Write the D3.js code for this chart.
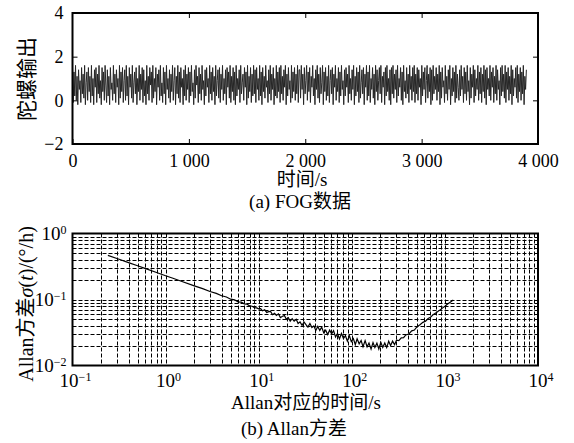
<!DOCTYPE html>
<html lang="zh">
<head>
<meta charset="UTF-8">
<title>FOG数据与Allan方差</title>
<script src="https://d3js.org/d3.v7.min.js"></script>
<style>
  body { margin: 0; background: #fff; }
  text { font-family: "Liberation Serif", "DejaVu Serif", "Noto Sans CJK SC", serif; fill: #000; }
</style>
</head>
<body>
<div id="chart"></div>
<script>
// ---- data ----
// (a) gyro output, sampled over ~3 900 s
var fogValues = [
  1.5,-0.1,1.3,0.2,1.6,0.0,1.1,-0.2,1.4,0.5,0.9,-0.1,1.5,0.3,1.2,0.1,1.6,-0.2,0.8,1.3,0.0,1.5,0.4,1.1,-0.1,1.6,0.2,1.0,-0.2,1.4,
  0.6,1.5,-0.1,1.2,0.3,1.6,0.1,0.9,-0.2,1.5,0.4,1.3,0.0,1.6,0.7,-0.1,1.4,0.2,1.1,-0.2,1.5,0.5,0.8,0.0,1.6,0.3,1.2,-0.1,1.4,0.6,
  1.0,-0.2,1.6,0.1,1.3,0.4,1.5,-0.1,0.9,1.4,0.0,1.6,0.2,1.1,-0.2,1.5,0.6,1.2,0.1,1.6,-0.1,0.8,1.3,0.3,1.5,-0.2,1.0,0.4,1.6,0.0,
  1.2,0.5,1.5,-0.1,1.4,0.2,0.9,-0.2,1.6,0.3,1.1,0.0,1.5,0.7,1.3,-0.1,1.6,0.1,1.0,0.4,1.5,-0.2,1.2,0.6,1.4,0.0,1.6,0.2,0.8,-0.1,
  1.5,0.3,1.3,-0.2,1.6,0.5,1.0,0.1,1.4,-0.1,1.2,0.4,1.6,0.0,0.9,1.5,-0.2,1.1,0.3,1.6,0.1,1.3,-0.1,1.5,0.6,1.0,-0.2,1.4,0.2,1.6,
  0.0,1.2,0.5,1.5,-0.1,1.3,0.2,1.6,0.4,0.8,-0.2,1.4,0.1,1.6,0.7,1.1,-0.1,1.5,0.3,1.2,0.0,1.6,0.5,0.9,-0.2,1.4,0.2,1.5,0.6,1.0,
  -0.1,1.6,0.3,1.3,0.0,1.5,0.4,1.1,-0.2,1.6,0.2,0.9,1.4,0.1,1.5,-0.1,1.2,0.5,1.6,0.0,1.0,0.3,1.4,-0.2,1.5,0.6,1.3,0.1,1.6,-0.1,
  1.1,0.4,1.5,0.0,1.3,-0.2,1.6,0.2,1.0,0.5,1.4,-0.1,1.6,0.3,0.8,1.2,0.0,1.5,0.6,1.3,-0.2,1.6,0.1,1.1,0.4,1.5,-0.1,1.2,0.2,1.6,
  0.3,1.4,-0.1,1.5,0.5,1.0,0.0,1.6,0.2,1.3,-0.2,1.5,0.4,1.1,0.1,1.6,0.6,0.9,-0.1,1.4,0.3,1.6,0.0,1.2,0.5,1.5,-0.2,1.0,0.2,1.6,
  0.1,1.3,0.4,1.5,-0.1,1.6,0.3,1.1,0.0,1.4,0.6,1.6,-0.2,1.2,0.2,1.5,0.5,0.9,-0.1,1.6,0.1,1.3,0.4,1.5,0.0,1.2,0.3,1.6,-0.1,1.4,
  1.4,0.1,1.6,0.5,1.2,-0.2,1.5,0.3,0.9,1.6,0.0,1.3,0.4,1.5,-0.1,1.1,0.6,1.6,0.2,1.0,-0.2,1.4,0.5,1.6,0.1,1.2,-0.1,1.5,0.3,0.8,
  1.6,-0.2,1.3,0.4,1.5,0.0,1.1,0.2,1.6,-0.1,0.9,1.4,0.3,1.5,-0.2,1.2,0.6,1.6,0.0,1.0,0.4,1.5,-0.1,1.3,0.2,1.6,0.5,0.9,-0.2,1.4,
  0.2,1.5,0.6,1.2,-0.1,1.6,0.3,1.0,0.0,1.4,0.5,1.6,-0.2,1.1,0.2,1.5,0.4,1.3,-0.1,1.6,0.1,0.8,1.4,0.3,1.5,-0.2,1.2,0.6,1.6,0.0,
  1.3,0.2,1.6,-0.1,1.0,0.5,1.5,0.1,1.2,-0.2,1.6,0.4,1.4,0.0,0.9,1.5,0.3,1.6,-0.1,1.1,0.6,1.3,-0.2,1.5,0.2,1.6,0.4,1.0,0.0,1.4,
  -0.2,1.5,0.3,1.6,0.1,1.2,0.5,1.4,-0.1,1.6,0.2,1.0,0.6,1.5,0.0,1.3,-0.2,1.6,0.4,0.9,0.1,1.5,0.3,1.2,-0.1,1.6,0.5,1.1,0.0,1.5,
  0.4,1.6,-0.1,1.2,0.3,1.5,0.0,1.4,0.6,1.0,-0.2,1.6,0.2,1.3,0.5,1.5,-0.1,0.9,1.6,0.1,1.2,0.4,1.5,-0.2,1.4,0.0,1.6,0.3,1.1,0.5,
  1.5,0.0,1.2,0.4,1.6,-0.2,1.3,0.1,1.5,0.6,0.9,-0.1,1.6,0.3,1.1,0.0,1.4,0.5,1.6,-0.2,1.0,0.2,1.5,0.4,1.3,-0.1,1.6,0.1,1.2,0.6,
  0.0,1.4,0.2,1.6,0.5,1.1,-0.1,1.5,0.3,1.3,0.0,1.6,0.4,0.9,-0.2,1.5,0.1,1.2,0.6,1.6,-0.1,1.4,0.2,1.0,0.5,1.6,0.0,1.3,0.3,1.5,
  -0.1,1.2,0.4,1.6,0.1,1.4,-0.2,1.5,0.5,1.0,0.2,1.6,0.0,1.3,0.6,1.5,-0.1,1.1,0.3,1.6,0.0,1.4,0.5,0.9,-0.2,1.5,0.2,1.6,0.4,1.2,
  0.1,1.6,-0.1,1.3,0.5,1.5,0.0,1.1,0.3,1.6,-0.2,1.4,0.2,1.0,0.6,1.5,0.1,1.6,-0.1,1.2,0.4,1.5,0.0,1.3,0.3,1.6,-0.2,1.1,0.5,1.4
];
var fogDuration = 3900;
var fogXTicks = [0, 1000, 2000, 3000, 4000];
var fogXLabels = ["0", "1 000", "2 000", "3 000", "4 000"];
var fogYTicks = [-2, 0, 2, 4];
var fogYLabels = ["\u22122", "0", "2", "4"];

// (b) Allan deviation
var allanTau = [
  0.24, 0.3, 0.4, 0.5, 0.6, 0.8, 1.0, 1.2, 1.5, 2, 2.5, 3, 3.5, 4, 4.5, 5, 5.5, 6, 6.5, 7, 7.5, 8, 8.5, 9, 9.5,
  10, 10.5, 11, 11.6, 12.2, 12.8, 13.4, 14.1, 14.8, 15.5, 16.3, 17.1, 18, 18.9, 19.8, 20.8, 21.8, 22.9, 24, 25.3,
  26.5, 27.8, 29.2, 30.7, 32.2, 33.8, 35.5, 37.3, 39.1, 41.1, 43.1, 45.3, 47.5, 49.9, 52.4, 55, 57.8, 60.7, 63.7,
  66.9, 70.2, 73.7, 77.4, 81.3, 85.4, 89.6, 94.1, 98.8, 104, 109, 114, 120, 126, 132, 139, 146, 153, 161, 169,
  177, 186, 195, 205, 215, 226, 237, 249, 261, 274, 288, 302,
  320, 340, 360, 380, 410, 440, 470, 500, 540, 580, 620, 660, 700, 760, 820, 880, 940, 1000, 1060, 1150, 1230
];
var allanSigma = [
  0.467, 0.418, 0.362, 0.324, 0.296, 0.257, 0.229, 0.210, 0.187, 0.162, 0.146, 0.132, 0.124, 0.114, 0.109, 0.101, 0.099, 0.092, 0.091, 0.086, 0.085, 0.080, 0.079, 0.075, 0.0745,
  0.0720, 0.0725, 0.0674, 0.0699, 0.0637, 0.0655, 0.0658, 0.0588, 0.0617, 0.0574, 0.0606, 0.0531, 0.0558, 0.0571, 0.0501, 0.0530, 0.0469, 0.0511, 0.0471, 0.0503,
  0.0432, 0.0458, 0.0405, 0.0455, 0.0415, 0.0382, 0.0433, 0.0376, 0.0398, 0.0340, 0.0391, 0.0340, 0.0381, 0.0314, 0.0343, 0.0294, 0.0343, 0.0302, 0.0337,
  0.0270, 0.0305, 0.0253, 0.0305, 0.0256, 0.0284, 0.0234, 0.0284, 0.0230, 0.0256, 0.0207, 0.0254, 0.0213, 0.0239, 0.0192, 0.0238, 0.0192, 0.0219, 0.0177, 0.0223,
  0.0188, 0.0218, 0.0178, 0.0225, 0.0188, 0.0220, 0.0187, 0.0233, 0.0201, 0.0234, 0.0207, 0.0242,
  0.0238, 0.0262, 0.0265, 0.0290, 0.0300, 0.0335, 0.0345, 0.0385, 0.0415, 0.0450, 0.0470, 0.0515, 0.0540, 0.0600, 0.0640, 0.0690, 0.0740, 0.0790, 0.0845, 0.0915, 0.0980
];
var allanXDecades = [-1, 0, 1, 2, 3, 4];
var allanYDecades = [-2, -1, 0];

// ---- layout ----
var W = 574, H = 443;
var svg = d3.select("#chart").append("svg")
  .attr("width", W).attr("height", H);

var plotLeft = 72.5, plotRight = 538;

// ======== (a) FOG data ========
var topY0 = 13, topY1 = 144;
var x1 = d3.scaleLinear().domain([0, 4000]).range([plotLeft, plotRight]);
var y1 = d3.scaleLinear().domain([-2, 4]).range([topY1, topY0]);

var fogStep = fogDuration / (fogValues.length - 1);
var fogLine = d3.line()
  .x(function(d, i) { return x1(i * fogStep); })
  .y(function(d) { return y1(d); });

svg.append("path")
  .datum(fogValues)
  .attr("d", fogLine)
  .attr("fill", "none")
  .attr("stroke", "#262626")
  .attr("stroke-width", 1);

// axes (ticks inward on all four sides)
function styleAxis(g) {
  g.select(".domain").remove();
  g.selectAll(".tick line").attr("stroke", "#000").attr("stroke-width", 1);
  g.selectAll(".tick text").style("font-size", "18px").attr("fill", "#000");
}
svg.append("g")
  .attr("transform", "translate(0," + topY1 + ")")
  .call(d3.axisBottom(x1).tickValues(fogXTicks).tickSize(-5).tickPadding(10)
    .tickFormat(function(d, i) { return fogXLabels[i]; }))
  .call(styleAxis);
svg.append("g")
  .attr("transform", "translate(0," + topY0 + ")")
  .call(d3.axisTop(x1).tickValues(fogXTicks.slice(1, 4)).tickSize(-5).tickFormat(""))
  .call(styleAxis);
svg.append("g")
  .attr("transform", "translate(" + plotLeft + ",0)")
  .call(d3.axisLeft(y1).tickValues(fogYTicks).tickSize(-5).tickPadding(9)
    .tickFormat(function(d, i) { return fogYLabels[i]; }))
  .call(styleAxis);
svg.append("g")
  .attr("transform", "translate(" + plotRight + ",0)")
  .call(d3.axisRight(y1).tickValues([0, 2]).tickSize(-5).tickFormat(""))
  .call(styleAxis);

svg.append("rect")
  .attr("x", plotLeft).attr("y", topY0)
  .attr("width", plotRight - plotLeft).attr("height", topY1 - topY0)
  .attr("fill", "none").attr("stroke", "#000").attr("stroke-width", 2);

svg.append("text")
  .attr("transform", "translate(34," + 79 + ") rotate(-90)")
  .attr("text-anchor", "middle")
  .style("font-size", "21px")
  .text("陀螺输出");
svg.append("text")
  .attr("x", 302).attr("y", 186)
  .attr("text-anchor", "middle")
  .style("font-size", "19px")
  .text("时间/s");
svg.append("text")
  .attr("x", 300).attr("y", 208)
  .attr("text-anchor", "middle")
  .style("font-size", "19px")
  .text("(a) FOG数据");

// ======== (b) Allan variance ========
var botY0 = 233.5, botY1 = 365.5;
var x2 = d3.scaleLog().domain([0.1, 10000]).range([plotLeft, plotRight]);
var y2 = d3.scaleLog().domain([0.01, 1]).range([botY1, botY0]);

var gridX = [], gridY = [];
allanXDecades.slice(0, -1).forEach(function(e) {
  for (var k = 1; k <= 9; k++) gridX.push(k * Math.pow(10, e));
});
allanYDecades.slice(0, -1).forEach(function(e) {
  for (var k = 1; k <= 9; k++) gridY.push(k * Math.pow(10, e));
});

var grid = svg.append("g")
  .attr("stroke", "#000").attr("stroke-width", 1).attr("stroke-dasharray", "4,2");
grid.selectAll("line.gx").data(gridX.filter(function(v) { return v > 0.1; }))
  .enter().append("line")
  .attr("x1", function(d) { return Math.round(x2(d)) + 0.5; })
  .attr("x2", function(d) { return Math.round(x2(d)) + 0.5; })
  .attr("y1", botY0).attr("y2", botY1);
grid.selectAll("line.gy").data(gridY.filter(function(v) { return v > 0.01; }))
  .enter().append("line")
  .attr("y1", function(d) { return Math.round(y2(d)) + 0.5; })
  .attr("y2", function(d) { return Math.round(y2(d)) + 0.5; })
  .attr("x1", plotLeft).attr("x2", plotRight);

var allanLine = d3.line()
  .x(function(d) { return x2(d[0]); })
  .y(function(d) { return y2(d[1]); });
svg.append("path")
  .datum(d3.zip(allanTau, allanSigma))
  .attr("d", allanLine)
  .attr("fill", "none")
  .attr("stroke", "#000")
  .attr("stroke-width", 1.2);

svg.append("rect")
  .attr("x", plotLeft).attr("y", botY0)
  .attr("width", plotRight - plotLeft).attr("height", botY1 - botY0)
  .attr("fill", "none").attr("stroke", "#000").attr("stroke-width", 2);

// power-of-ten tick labels
function powLabel(sel, e) {
  sel.append("tspan").text("10");
  sel.append("tspan").attr("dy", "-0.5em").style("font-size", "12px")
    .text(e < 0 ? "\u2212" + (-e) : String(e));
}
allanXDecades.forEach(function(e) {
  var t = svg.append("text")
    .attr("x", x2(Math.pow(10, e)) + 3).attr("y", botY1 + 21)
    .attr("text-anchor", "middle")
    .style("font-size", "19px");
  powLabel(t, e);
});
allanYDecades.forEach(function(e) {
  var t = svg.append("text")
    .attr("x", plotLeft - 6).attr("y", y2(Math.pow(10, e)) + 6)
    .attr("text-anchor", "end")
    .style("font-size", "19px");
  powLabel(t, e);
});

var yl = svg.append("text")
  .attr("transform", "translate(33," + 304 + ") rotate(-90)")
  .attr("text-anchor", "middle")
  .style("font-size", "20px");
yl.append("tspan").text("Allan方差");
yl.append("tspan").style("font-style", "italic").text("σ");
yl.append("tspan").text("(");
yl.append("tspan").style("font-style", "italic").text("t");
yl.append("tspan").text(")/(°/h)");

svg.append("text")
  .attr("x", 306).attr("y", 409)
  .attr("text-anchor", "middle")
  .style("font-size", "19px")
  .text("Allan对应的时间/s");
svg.append("text")
  .attr("x", 294).attr("y", 435)
  .attr("text-anchor", "middle")
  .style("font-size", "19px")
  .text("(b) Allan方差");
</script>
</body>
</html>
